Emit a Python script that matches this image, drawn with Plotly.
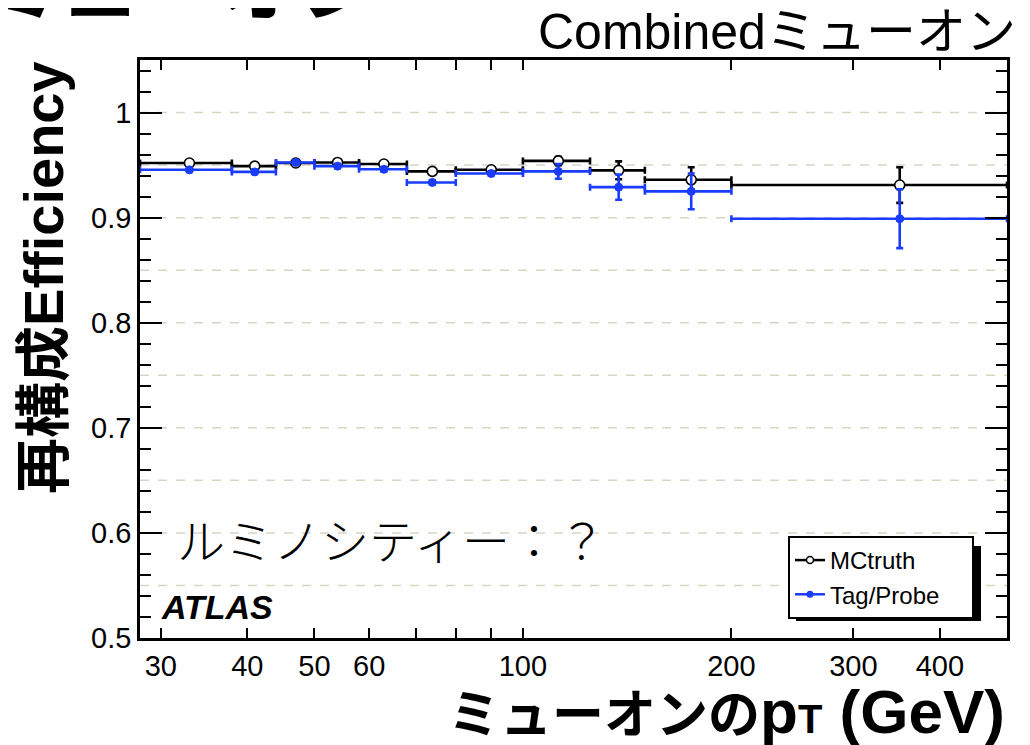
import math
import plotly.graph_objects as go

# ---------------- data ----------------
bin_edges = [28, 38, 44, 50, 58, 68, 80, 100, 125, 150, 200, 500]
mc_eff = [0.952, 0.949, 0.952, 0.9525, 0.951, 0.944, 0.9455, 0.954, 0.945, 0.936, 0.931]
mc_err = [0.002, 0.002, 0.002, 0.002, 0.002, 0.002, 0.002, 0.004, 0.0085, 0.012, 0.017]
tp_eff = [0.9455, 0.9435, 0.9525, 0.949, 0.946, 0.9335, 0.942, 0.944, 0.929, 0.925, 0.899]
tp_err = [0.002, 0.002, 0.002, 0.002, 0.002, 0.002, 0.002, 0.007, 0.012, 0.017, 0.028]

x_tick_vals = [30, 40, 50, 60, 70, 80, 90, 100, 200, 300, 400, 500]
x_tick_text = ["30", "40", "50", "60", "", "", "", "100", "200", "300", "400", ""]
grid_levels = [0.55, 0.6, 0.65, 0.7, 0.75, 0.8, 0.85, 0.9, 0.95, 1.0]

series_names = ["MCtruth", "Tag/Probe"]
BLACK = "#000000"
BLUE = "#1a3cff"

# bin centres and half-widths
centers = [(lo + hi) / 2 for lo, hi in zip(bin_edges[:-1], bin_edges[1:])]
err_plus = [hi - c for c, hi in zip(centers, bin_edges[1:])]
err_minus = [c - lo for c, lo in zip(centers, bin_edges[:-1])]

fig = go.Figure()

# MC truth
fig.add_trace(go.Scatter(
    x=centers, y=mc_eff, mode="markers", showlegend=False,
    marker=dict(symbol="circle", size=10, color="white", line=dict(color=BLACK, width=1.6)),
    error_x=dict(type="data", array=err_plus, arrayminus=err_minus, symmetric=False,
                 color=BLACK, thickness=2.6, width=3.5),
    error_y=dict(type="data", array=mc_err, color=BLACK, thickness=2.6, width=3.5),
))
# Tag and probe
fig.add_trace(go.Scatter(
    x=centers, y=tp_eff, mode="markers", showlegend=False,
    marker=dict(symbol="circle", size=8, color=BLUE, line=dict(color=BLUE, width=1)),
    error_x=dict(type="data", array=err_plus, arrayminus=err_minus, symmetric=False,
                 color=BLUE, thickness=2.6, width=3.5),
    error_y=dict(type="data", array=tp_err, color=BLUE, thickness=2.6, width=3.5),
))

# legend entries
NB = "\u00a0"
fig.add_trace(go.Scatter(
    x=[None], y=[None], mode="lines+markers", name=series_names[0],
    line=dict(color=BLACK, width=2.5),
    marker=dict(symbol="circle", size=7, color="white", line=dict(color=BLACK, width=1.5)),
))
fig.add_trace(go.Scatter(
    x=[None], y=[None], mode="lines+markers", name=series_names[1] + NB * 4,
    line=dict(color=BLUE, width=2.5),
    marker=dict(symbol="circle", size=7, color=BLUE),
))

shapes = []
for g in grid_levels:
    shapes.append(dict(type="line", xref="paper", yref="y", x0=0, x1=1, y0=g, y1=g,
                       line=dict(color="#d9d5c3", width=1.5, dash="dash"), layer="below"))
# legend shadow
shapes.append(dict(type="rect", xref="paper", yref="paper",
                   x0=0.7566, x1=0.9700, y0=0.0294, y1=0.159,
                   fillcolor="black", line=dict(width=0), layer="above"))

LAT = "Liberation Sans, Arial, Helvetica, sans-serif"
JP = "Noto Sans CJK JP, sans-serif"

xtitle = ("<b>ミューオンの<span style='font-family:Liberation Sans;font-size:62px'>p</span>"
          "<span style='font-family:Liberation Sans;font-size:40px'>T</span>"
          "<span style='font-family:Liberation Sans;font-size:62px'> (GeV)</span></b>")

annotations = [
    # cut-off huge heading at very top
    dict(text="<b>ミューオン</b>", xref="paper", yref="paper", x=-0.187, y=1.141,
         xanchor="left", yanchor="middle", showarrow=False,
         font=dict(family=JP, size=80, color="black")),
    dict(text="Combinedミューオン", xref="paper", yref="paper", x=1.0128, y=1.0485,
         xanchor="right", yanchor="middle", showarrow=False,
         font=dict(family="Liberation Sans, " + JP, size=50, color="black")),
    dict(text="ルミノシティー：？", xref="paper", yref="paper", x=0.0404, y=0.173,
         xanchor="left", yanchor="middle", showarrow=False,
         font=dict(family=JP, size=48, color="black", weight=300)),
    dict(text="<b><i>ATLAS</i></b>", xref="paper", yref="paper", x=0.022, y=0.0536,
         xanchor="left", yanchor="middle", showarrow=False,
         font=dict(family=LAT, size=34, color="black")),
    dict(text="<b>再構成Efficiency</b>", xref="paper", yref="paper", x=-0.1107, y=0.623,
         xanchor="center", yanchor="middle", showarrow=False, textangle=-90,
         font=dict(family="Liberation Sans, " + JP, size=56, color="black")),
    dict(text=xtitle, xref="paper", yref="paper", x=1.0, y=-0.126,
         xanchor="right", yanchor="middle", showarrow=False,
         font=dict(family=JP, size=52, color="black")),
]

fig.update_layout(
    width=1022, height=737, autosize=False,
    margin=dict(l=132, r=23, t=52, b=107),
    paper_bgcolor="white", plot_bgcolor="white",
    font=dict(family=LAT, color="black"),
    xaxis=dict(
        type="log", range=[math.log10(28), math.log10(500)],
        tickmode="array", tickvals=x_tick_vals, ticktext=x_tick_text,
        ticks="inside", ticklen=10, tickwidth=1.5, tickcolor="black",
        showline=True, linecolor="black", linewidth=2.5, mirror="allticks",
        showgrid=False, zeroline=False, tickfont=dict(size=29, family=LAT),
    ),
    yaxis=dict(
        range=[0.5, 1.05], tick0=0.5, dtick=0.1,
        ticks="inside", ticklen=22, tickwidth=1.5, tickcolor="black",
        minor=dict(tick0=0.5, dtick=0.02, ticks="inside", ticklen=11, tickwidth=1.5, tickcolor="black"),
        showline=True, linecolor="black", linewidth=2.5, mirror="allticks",
        showgrid=False, zeroline=False, tickfont=dict(size=29, family=LAT),
    ),
    legend=dict(x=0.7474, y=0.1765, xanchor="left", yanchor="top",
                bgcolor="white", bordercolor="black", borderwidth=2,
                font=dict(family=LAT, size=24, color="black"), itemwidth=30,
                tracegroupgap=0),
    shapes=shapes,
    annotations=annotations,
)

fig.write_html("out.html")
